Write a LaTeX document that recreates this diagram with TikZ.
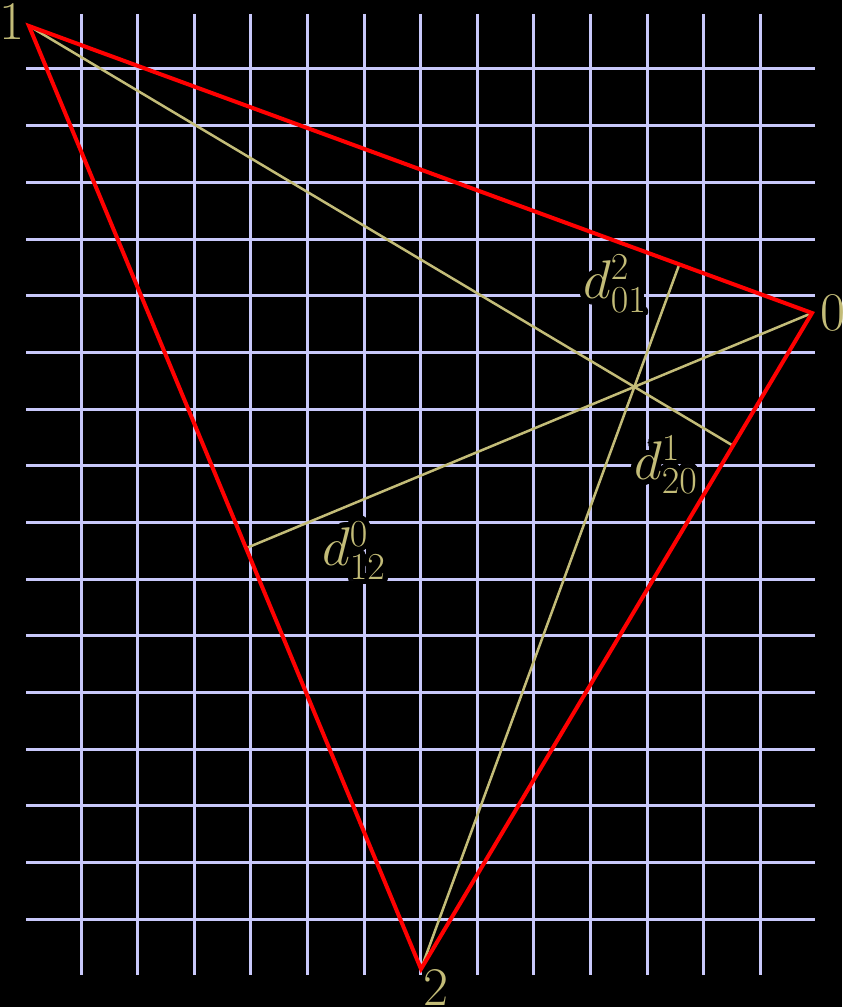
\RequirePackage{fix-cm}
\documentclass[tikz,border=0pt]{standalone}
\usepackage[copies]{contour}
\usetikzlibrary{calc}
\definecolor{gridblue}{RGB}{200,200,250}
\definecolor{khaki}{RGB}{195,188,120}
\contourlength{3pt}
\contournumber{32}

\begin{document}
\begin{tikzpicture}[x=0.02cm, y=-0.02cm,
  gridline/.style={gridblue, line width=0.06cm},
  edge/.style={red, line width=0.08cm},
  altitude/.style={khaki, line width=0.05cm},
  vlabel/.style={khaki, inner sep=0pt, font=\fontsize{31}{37}\selectfont},
  dlabel/.style={khaki, inner sep=0pt, font=\fontsize{31}{37}\selectfont}]

  \fill[black] (0,0) rectangle (842,1007);
  \useasboundingbox (0,0) rectangle (842,1007);

  % Grille
  \foreach \i in {0,...,12}
    \draw[gridline] ({81+56.6*\i},14) -- ({81+56.6*\i},975);
  \foreach \j in {0,...,15}
    \draw[gridline] (26,{69+56.67*\j}) -- (815,{69+56.67*\j});

  % Sommets
  \coordinate (v0) at (812,313);
  \coordinate (v1) at (29,26);
  \coordinate (v2) at (421,969);

  % Pieds des hauteurs
  \coordinate (f0) at ($(v1)!(v0)!(v2)$);
  \coordinate (f1) at ($(v2)!(v1)!(v0)$);
  \coordinate (f2) at ($(v0)!(v2)!(v1)$);

  % Hauteurs
  \draw[altitude] (v0) -- (f0);
  \draw[altitude] (v1) -- (f1);
  \draw[altitude] (v2) -- (f2);

  % Triangle
  \draw[edge] (v0) -- (v1) -- (v2) -- cycle;

  % Etiquettes
  \node[vlabel, anchor=west] (n0) at ($(v0)+(8,0)$) {0};
  \node[vlabel, anchor=east] (n1) at ($(v1)+(-4,-4)$) {1};
  \node[vlabel, anchor=north west] (n2) at ($(v2)+(2,0)$) {2};

  \node[dlabel] (d2) at (615,286) {\contour{black}{$d^{2}_{01}$}};
  \node[dlabel] (d1) at (666,467) {\contour{black}{$d^{1}_{20}$}};
  \node[dlabel] (d0) at (354,553) {\contour{black}{$d^{0}_{12}$}};

\end{tikzpicture}
\end{document}
